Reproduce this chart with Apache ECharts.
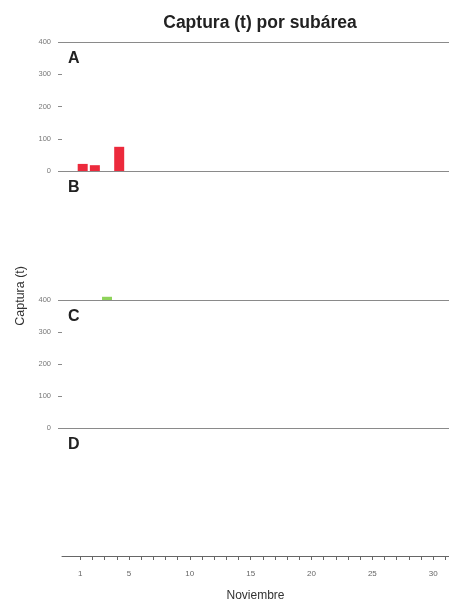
<!DOCTYPE html>
<html><head><meta charset="utf-8">
<script src="https://cdn.jsdelivr.net/npm/echarts@6/dist/echarts.min.js"></script>
<style>html,body{margin:0;padding:0;background:#fff}#c{width:449px;height:603px}</style>
</head><body><div id="c"></div>
<script>
const panelLabels = ['A','B','C','D'];
const yTicks = [0,100,200,300,400];
const xTickLabels = [1,5,10,15,20,25,30];
const allDays = [1,2,3,4,5,6,7,8,9,10,11,12,13,14,15,16,17,18,19,20,21,22,23,24,25,26,27,28,29,30,31];
const diasA = [1,2,4];
const capturaA = [22,18,75];
const diasB = [3];
const capturaB = [10];
const diasC = [];
const capturaC = [];
const diasD = [];
const capturaD = [];
const panelColors = ['#ec2a3c','#8ed35a','#3a7bd5','#f0a030'];

const chart = echarts.init(document.getElementById('c'), null, {renderer:'canvas'});
const FONT = '"Liberation Sans", Arial, sans-serif';
const tops = [42,171,300,428];
const heights = [129,129,128,128];
const grids = tops.map((t,i)=>({left:62,right:0,top:t,height:heights[i]}));
const xAxes = [];
const yAxes = [];
const panelData = [[diasA,capturaA],[diasB,capturaB],[diasC,capturaC],[diasD,capturaD]];
const lineColor = '#8a8a8a';
for (let i=0;i<4;i++){
  const isLast = i===3;
  const showBox = (i===0 || i===2);
  xAxes.push({
    type:'value', gridIndex:i, min: isLast ? -0.5 : -0.7, max: isLast ? 31.3 : 31.1, position:'bottom',
    axisLine:{show: showBox || isLast, onZero:false, lineStyle:{color: isLast ? '#666' : lineColor, width:1}},
    axisTick:{show:isLast, customValues: allDays, length:4, inside:false, lineStyle:{color:'#666'}},
    axisLabel:{show:isLast, customValues: xTickLabels, fontSize:8, color:'#666', margin:14, fontFamily:FONT},
    splitLine:{show:false},
    name: isLast ? 'Noviembre' : '', nameLocation:'middle', nameGap:34,
    nameTextStyle:{fontSize:12, color:'#333', fontFamily:FONT}
  });
  yAxes.push({
    type:'value', gridIndex:i, min:0, max:400, interval:100, position:'left',
    axisLine:{show:false, onZero:false},
    axisTick:{show:showBox, length:4, lineStyle:{color:lineColor}},
    axisLabel:{show:showBox, fontSize:7.5, color:'#777', margin:11, fontFamily:FONT},
    splitLine:{show:false}
  });
}
[0,2].forEach(i=>{
  xAxes.push({
    type:'value', gridIndex:i, min:-0.7, max:31.1, position:'top',
    axisLine:{show:true, onZero:false, lineStyle:{color:lineColor, width:1}},
    axisTick:{show:false}, axisLabel:{show:false}, splitLine:{show:false}
  });
});
const series = panelData.map((pd,i)=>({
  type:'bar', xAxisIndex:i, yAxisIndex:i, barWidth:10,
  itemStyle:{color:panelColors[i]},
  data: pd[0].map((d,k)=>[d, pd[1][k]])
}));
const titles = [{text:'Captura (t) por subárea', left:260, textAlign:'center', top:14, padding:0,
  textStyle:{fontSize:17.5, fontWeight:'bold', color:'#222', fontFamily:FONT}}];
panelLabels.forEach((l,i)=>titles.push({text:l, left:68, top:tops[i]+9, padding:0,
  textStyle:{fontSize:16, fontWeight:'bold', color:'#222', fontFamily:FONT}}));
chart.setOption({
  animation:false,
  backgroundColor:'#fff',
  title: titles,
  grid: grids,
  xAxis: xAxes,
  yAxis: yAxes,
  series: series,
  graphic:[{type:'text', left:14, top:266, rotation:Math.PI/2,
    style:{text:'Captura (t)', fill:'#333', font:'12.5px '+FONT}}]
});
</script></body></html>
